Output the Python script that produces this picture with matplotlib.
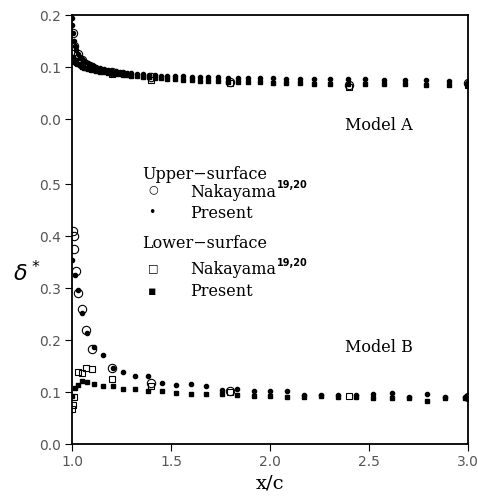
import numpy as np
import matplotlib.pyplot as plt

# Model A (upper panel), present computation
xa = [1.0, 1.002, 1.005, 1.01, 1.015, 1.02, 1.03, 1.04, 1.05, 1.06, 1.07, 1.08, 1.09,
      1.10, 1.12, 1.14, 1.16, 1.18, 1.20, 1.22, 1.24, 1.26, 1.28, 1.30, 1.33, 1.36,
      1.39, 1.42, 1.45, 1.48, 1.52, 1.562, 1.604, 1.646, 1.688, 1.736, 1.786, 1.837,
      1.891, 1.949, 2.014, 2.081, 2.152, 2.224, 2.303, 2.392, 2.48, 2.577, 2.682,
      2.786, 2.905, 3.0]
ya_up = [0.195, 0.18, 0.165, 0.15, 0.14, 0.133, 0.125, 0.119, 0.115, 0.112, 0.109,
         0.107, 0.105, 0.103, 0.1, 0.098, 0.096, 0.095, 0.093, 0.092, 0.091, 0.09,
         0.089, 0.088, 0.087, 0.086, 0.085, 0.084, 0.083, 0.083, 0.082, 0.082, 0.081,
         0.081, 0.080, 0.080, 0.079, 0.079, 0.079, 0.078, 0.078, 0.077, 0.077, 0.077,
         0.077, 0.077, 0.077, 0.076, 0.076, 0.075, 0.074, 0.072]
ya_lo = [0.12, 0.118, 0.115, 0.112, 0.11, 0.108, 0.105, 0.103, 0.101, 0.099, 0.098,
         0.097, 0.096, 0.095, 0.093, 0.091, 0.09, 0.089, 0.088, 0.087, 0.086, 0.085,
         0.084, 0.083, 0.082, 0.081, 0.080, 0.079, 0.078, 0.077, 0.077, 0.076, 0.075,
         0.074, 0.073, 0.073, 0.072, 0.072, 0.071, 0.071, 0.070, 0.069, 0.069, 0.068,
         0.068, 0.067, 0.067, 0.067, 0.067, 0.066, 0.066, 0.065]

# Model A, Nakayama
xa_nak_up = [1.003, 1.01, 1.03, 1.05, 1.1, 1.2, 1.4, 1.8, 2.4, 3.0]
ya_nak_up = [0.165, 0.14, 0.125, 0.113, 0.1, 0.09, 0.08, 0.072, 0.066, 0.07]
xa_nak_lo = [1.0, 1.01, 1.03, 1.05, 1.1, 1.2, 1.4, 1.8, 2.4, 3.0]
ya_nak_lo = [0.117, 0.112, 0.108, 0.104, 0.096, 0.087, 0.075, 0.07, 0.061, 0.066]

# Model B (lower panel), present computation
xb = [1.0, 1.015, 1.03, 1.05, 1.075, 1.11, 1.155, 1.205, 1.26, 1.32, 1.385, 1.453,
      1.525, 1.60, 1.677, 1.756, 1.835, 1.92, 2.0, 2.084, 2.17, 2.256, 2.345, 2.434,
      2.52, 2.614, 2.70, 2.795, 2.884, 2.985]
yb_up = [0.354, 0.325, 0.296, 0.252, 0.213, 0.187, 0.171, 0.147, 0.139, 0.131, 0.131,
         0.117, 0.113, 0.115, 0.112, 0.104, 0.105, 0.102, 0.102, 0.102, 0.094, 0.094,
         0.094, 0.095, 0.097, 0.099, 0.09, 0.096, 0.09, 0.091]
yb_lo = [0.093, 0.108, 0.113, 0.121, 0.119, 0.115, 0.111, 0.112, 0.105, 0.105, 0.102,
         0.102, 0.099, 0.096, 0.097, 0.097, 0.094, 0.093, 0.092, 0.091, 0.091, 0.092,
         0.091, 0.091, 0.088, 0.088, 0.088, 0.083, 0.088, 0.089]

# Model B, Nakayama
xb_nak_up = [1.003, 1.008, 1.01, 1.02, 1.03, 1.05, 1.07, 1.10, 1.20, 1.40, 1.80, 3.0]
yb_nak_up = [0.41, 0.40, 0.375, 0.333, 0.29, 0.26, 0.22, 0.183, 0.147, 0.117, 0.102, 0.09]
xb_nak_lo = [1.0, 1.005, 1.01, 1.03, 1.05, 1.07, 1.10, 1.20, 1.40, 1.80, 2.40, 3.0]
yb_nak_lo = [0.067, 0.075, 0.091, 0.139, 0.136, 0.147, 0.144, 0.126, 0.112, 0.10, 0.093, 0.09]

# upper panel is stacked above the lower one on a shared axis
offset = 0.625

fig = plt.figure(figsize=(4.78, 4.98), dpi=100)
ax = fig.add_axes([0.1506, 0.1084, 0.8284, 0.8614])

def panel(x, y, shift, **kw):
    ax.plot(x, np.array(y) + shift, linestyle="none", **kw)

for shift, x, yu, yl, xnu, ynu, xnl, ynl in [
        (offset, xa, ya_up, ya_lo, xa_nak_up, ya_nak_up, xa_nak_lo, ya_nak_lo),
        (0.0, xb, yb_up, yb_lo, xb_nak_up, yb_nak_up, xb_nak_lo, yb_nak_lo)]:
    panel(xnu, ynu, shift, marker="o", ms=6, mfc="none", mec="black", mew=0.8)
    panel(xnl, ynl, shift, marker="s", ms=5, mfc="none", mec="black", mew=0.8)
    panel(x, yu, shift, marker="o", ms=3, color="black")
    panel(x, yl, shift, marker="s", ms=2.6, color="black")

ax.set_xlim(1.0, 3.0)
ax.set_ylim(0.0, 0.825)
ax.set_xticks([1.0, 1.5, 2.0, 2.5, 3.0])
ax.set_xticklabels(["1.0", "1.5", "2.0", "2.5", "3.0"])
yt = [0.0, 0.1, 0.2, 0.3, 0.4, 0.5, offset, offset + 0.1, offset + 0.2]
ax.set_yticks(yt)
ax.set_yticklabels(["0.0", "0.1", "0.2", "0.3", "0.4", "0.5", "0.0", "0.1", "0.2"])
ax.tick_params(direction="out", length=5, width=0.8, labelsize=10,
               labelcolor="#555555", pad=3)
for s in ax.spines.values():
    s.set_linewidth(1.3)

ax.set_xlabel("x/c", family="DejaVu Serif", fontsize=14, labelpad=4)
ax.set_ylabel(r"$\delta^*$", fontsize=16, rotation=0, labelpad=4)
ax.yaxis.set_label_coords(-0.115, 0.37)

serif = dict(family="DejaVu Serif", fontsize=11.5, va="center")

def nakayama(y):
    t = ax.text(1.596, y, "Nakayama", **serif)
    ax.annotate("19,20", xy=(1, 0.62), xycoords=t, xytext=(1, 0),
                textcoords="offset points", fontsize=7, fontweight="bold",
                va="bottom", ha="left")

ax.text(1.355, 0.519, "Upper\u2212surface", **serif)
ax.text(1.385, 0.490, "\u25cb", fontsize=8, va="center")
nakayama(0.484)
ax.text(1.385, 0.446, "\u2022", fontsize=9, va="center")
ax.text(1.596, 0.443, "Present", **serif)
ax.text(1.355, 0.386, "Lower\u2212surface", **serif)
ax.text(1.385, 0.338, "\u25a1", fontsize=8, va="center")
nakayama(0.335)
ax.text(1.385, 0.294, "\u25aa", fontsize=9, va="center")
ax.text(1.596, 0.293, "Present", **serif)
ax.text(2.38, 0.612, "Model A", **serif)
ax.text(2.38, 0.185, "Model B", **serif)

plt.savefig("out.png", dpi=100)
